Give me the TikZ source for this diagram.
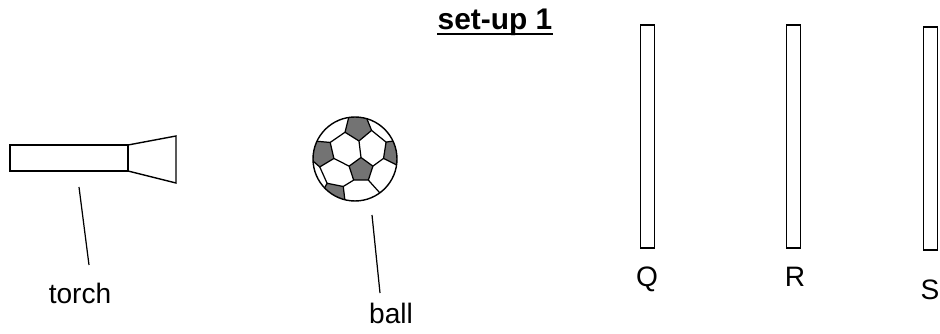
\documentclass[tikz,border=0pt]{standalone}
\usepackage{fontspec}
\setmainfont{Liberation Sans}
\usetikzlibrary{calc}
\begin{document}
\begin{tikzpicture}[x=0.02cm,y=-0.02cm,
  outline/.style={draw=black,line width=0.8pt},
  panel/.style={outline,fill=white,minimum width=0.28cm,minimum height=4.46cm,inner sep=0pt,outer sep=0pt},
  lbl/.style={font=\fontsize{16}{19}\selectfont,anchor=base,inner sep=0pt},
  leader/.style={draw=black,line width=0.7pt},
  patch/.style={fill=black!55,draw=black,line width=0.7pt,line join=round},
  seam/.style={draw=black,line width=0.7pt}]
\useasboundingbox (0,0) rectangle (940,334);

% heading
\node[font=\bfseries\fontsize{17}{20}\selectfont,anchor=base,inner sep=0pt] (title) at (495,30) {set-up 1};
\draw[line width=0.9pt] ([yshift=-0.08cm]title.base west) -- ([yshift=-0.08cm]title.base east);

% torch: barrel and flared head
\node[outline,minimum width=2.36cm,minimum height=0.52cm,inner sep=0pt,outer sep=0pt] (body) at (69,158) {};
\coordinate (headtop) at (176,136);
\coordinate (headbot) at (176,183);
\draw[outline,line join=miter] (body.north east) -- (headtop) -- (headbot) -- (body.south east);
\coordinate (torchA) at (79,187);
\coordinate (torchB) at (89,265);
\draw[leader] (torchA) -- (torchB);
\node[lbl] (torchlbl) at (80,303) {torch};

% football
\node[circle,inner sep=0pt,outer sep=0pt,minimum size=1.68cm] (ball) at (355,159) {};
\coordinate (pc) at (361,170);
\coordinate (pt) at (358,127);
\coordinate (pl) at (321,153);
\coordinate (pbl) at (333,196);
\coordinate (pbr) at (389,204);
\coordinate (pr) at (396,152);
\begin{scope}
  \clip (ball.center) circle (0.84cm);
  \foreach \p in {pt,pl,pbl,pbr,pr}
    \draw[patch] ($(\p)!0.28cm!0:(pc)$) -- ($(\p)!0.28cm!72:(pc)$) -- ($(\p)!0.28cm!144:(pc)$)
      -- ($(\p)!0.28cm!216:(pc)$) -- ($(\p)!0.28cm!288:(pc)$) -- cycle;
  \draw[patch] ($(pc)+(90:0.25cm)$) -- ($(pc)+(162:0.25cm)$) -- ($(pc)+(234:0.25cm)$)
      -- ($(pc)+(306:0.25cm)$) -- ($(pc)+(18:0.25cm)$) -- cycle;
  \foreach \a/\p in {90/pt,162/pl,234/pbl,306/pbr,18/pr}
    \draw[seam] ($(pc)+(\a:0.25cm)$) -- ($(\p)!0.28cm!(pc)$);
  \foreach \p/\q in {pt/pl,pl/pbl,pbl/pbr,pbr/pr,pr/pt}
    \draw[seam] ($(\p)!0.28cm!288:(pc)$) -- ($(\q)!0.28cm!72:(pc)$);
\end{scope}
\draw[outline] (ball.center) circle (0.84cm);
\coordinate (ballA) at (372,215);
\coordinate (ballB) at (380,293);
\draw[leader] (ballA) -- (ballB);
\node[lbl] (balllbl) at (391,323) {ball};

% screens
\node[panel] (Q) at (647.5,136.5) {};
\node[panel] (R) at (793.5,136.5) {};
\node[panel] (S) at (930.5,138.5) {};
\node[lbl] (Qlbl) at (647,287) {Q};
\node[lbl] (Rlbl) at (795,287) {R};
\node[lbl] (Slbl) at (930,299) {S};
\end{tikzpicture}
\end{document}
